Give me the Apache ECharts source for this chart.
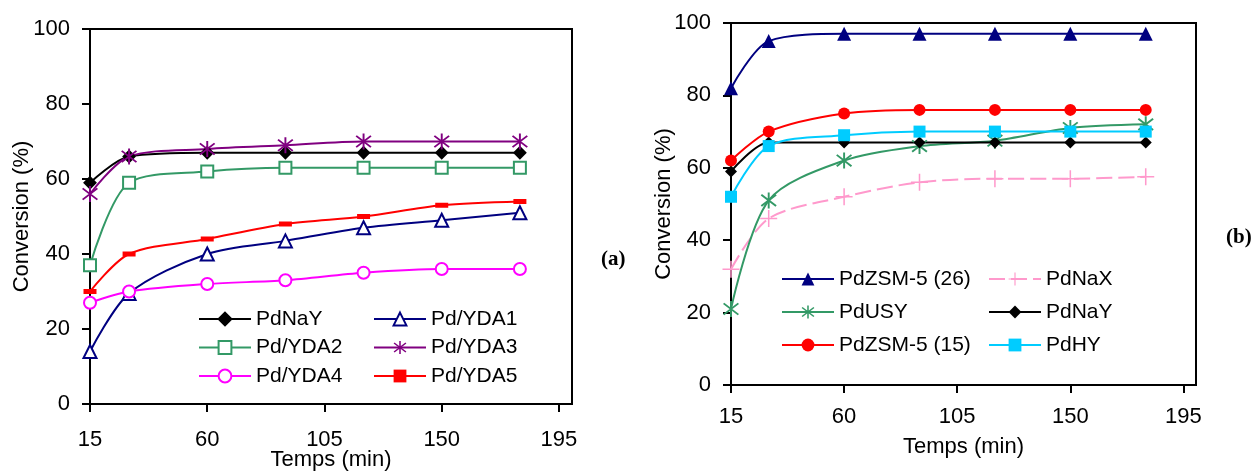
<!DOCTYPE html>
<html>
<head>
<meta charset="utf-8">
<script src="https://cdn.jsdelivr.net/npm/echarts@6/dist/echarts.min.js"></script>
<style>
  html, body { margin: 0; padding: 0; background: #fff; }
  #chart { width: 1258px; height: 472px; }
</style>
</head>
<body>
<div id="chart"></div>
<script>
// time points (min)
var times = [15, 30, 60, 90, 120, 150, 180];
var xTicks = [15, 60, 105, 150, 195];

// panel (a)
var pdNaY_a = [59, 66, 67, 67, 67, 67, 67];
var pdYDA1 = [14, 29.5, 40, 43.5, 47, 49, 51];
var pdYDA2 = [37, 59, 62, 63, 63, 63, 63];
var pdYDA3 = [56, 66, 68, 69, 70, 70, 70];
var pdYDA4 = [27, 30, 32, 33, 35, 36, 36];
var pdYDA5 = [30, 40, 44, 48, 50, 53, 54];

// panel (b)
var pdZSM26 = [82, 95, 97, 97, 97, 97, 97];
var pdNaX = [32, 46, 52, 56, 57, 57, 57.5];
var pdUSY = [21, 51, 62, 66, 67.5, 71, 72];
var pdNaY_b = [59, 67, 67, 67, 67, 67, 67];
var pdZSM15 = [62, 70, 75, 76, 76, 76, 76];
var pdHY = [52, 66, 69, 70, 70, 70, 70];

var FONT = "Liberation Sans, Arial, sans-serif";

function bar(cx, cy, len, w, deg) {
  var a = deg * Math.PI / 180;
  var dx = Math.cos(a) * len / 2, dy = Math.sin(a) * len / 2;
  var nx = -Math.sin(a) * w / 2, ny = Math.cos(a) * w / 2;
  var p = [
    [cx - dx + nx, cy - dy + ny], [cx + dx + nx, cy + dy + ny],
    [cx + dx - nx, cy + dy - ny], [cx - dx - nx, cy - dy - ny]
  ];
  return "M" + p.map(function (q) { return q[0].toFixed(2) + " " + q[1].toFixed(2); }).join(" L") + " Z ";
}
var asterisk = "path://" + bar(10, 10, 20, 2.2, 90) + bar(10, 10, 22, 2.2, 40) + bar(10, 10, 22, 2.2, 140);
var plus = "path://" + bar(10, 10, 20, 1.8, 90) + bar(10, 10, 20, 1.8, 0);

function pts(vals) {
  return times.map(function (t, i) { return [t, vals[i]]; });
}

function mk(name, vals, idx, color, symbol, size, extra) {
  var s = {
    name: name,
    type: "line",
    xAxisIndex: idx,
    yAxisIndex: idx,
    data: pts(vals),
    smooth: 0.3,
    symbol: symbol,
    symbolSize: size,
    showSymbol: true,
    showAllSymbol: true,
    animation: false,
    lineStyle: { color: color, width: 2 },
    itemStyle: { color: color, borderColor: color, borderWidth: 2 }
  };
  if (extra) {
    for (var k in extra) s[k] = extra[k];
  }
  return s;
}

function xAxis(idx, margin, gap) {
  return {
    type: "value",
    gridIndex: idx,
    min: 15,
    max: 200,
    name: "Temps (min)",
    nameLocation: "middle",
    nameGap: gap,
    nameMoveOverlap: false,
    nameTextStyle: { fontFamily: FONT, fontSize: 22, color: "#000" },
    axisLine: { show: true, onZero: false, lineStyle: { color: "#000", width: 2 } },
    axisTick: { show: true, length: 8, customValues: xTicks, lineStyle: { color: "#000", width: 2 } },
    axisLabel: { customValues: xTicks, margin: margin, fontFamily: FONT, fontSize: 22, color: "#000" },
    splitLine: { show: false }
  };
}

function yAxis(idx, gap) {
  return {
    type: "value",
    gridIndex: idx,
    min: 0,
    max: 100,
    interval: 20,
    name: "Conversion (%)",
    nameLocation: "middle",
    nameGap: gap,
    nameMoveOverlap: false,
    nameTextStyle: { fontFamily: FONT, fontSize: 22, color: "#000" },
    axisLine: { show: true, lineStyle: { color: "#000", width: 2 } },
    axisTick: { show: true, length: 8, lineStyle: { color: "#000", width: 2 } },
    axisLabel: { margin: 20, fontFamily: FONT, fontSize: 22, color: "#000" },
    splitLine: { show: false }
  };
}

function legend(names, left, top, gap) {
  return {
    data: names,
    orient: "vertical",
    left: left,
    top: top,
    itemWidth: 52,
    itemHeight: 16,
    itemGap: gap,
    padding: 0,
    selectedMode: false,
    textStyle: { fontFamily: FONT, fontSize: 21, color: "#000", lineHeight: 22 }
  };
}

var chart = echarts.init(document.getElementById("chart"));

var option = {
  backgroundColor: "#fff",
  grid: [
    { left: 90, top: 29, width: 482, height: 375, outerBoundsMode: "none", containLabel: false, show: true, borderColor: "#000", borderWidth: 2, backgroundColor: "transparent" },
    { left: 731, top: 23, width: 465, height: 362, outerBoundsMode: "none", containLabel: false, show: true, borderColor: "#000", borderWidth: 2, backgroundColor: "transparent" }
  ],
  xAxis: [xAxis(0, 25, 45), xAxis(1, 21, 51)],
  yAxis: [yAxis(0, 57), yAxis(1, 56)],
  legend: [
    legend(["PdNaY", "Pd/YDA2", "Pd/YDA4"], 198, 308, 6.5),
    legend(["Pd/YDA1", "Pd/YDA3", "Pd/YDA5"], 373, 308, 6.5),
    legend(["PdZSM-5 (26)", "PdUSY", "PdZSM-5 (15)"], 781, 268, 11),
    legend(["PdNaX", "PdNaY ", "PdHY"], 988, 268, 11)
  ],
  graphic: [
    { type: "text", left: 601, top: 249, style: { text: "(a)", font: "bold 21px 'Liberation Serif', 'Times New Roman', serif", fill: "#000" } },
    { type: "text", left: 1226, top: 227, style: { text: "(b)", font: "bold 21px 'Liberation Serif', 'Times New Roman', serif", fill: "#000" } }
  ],
  series: [
    mk("PdNaY", pdNaY_a, 0, "#000000", "diamond", 11),
    mk("Pd/YDA1", pdYDA1, 0, "#000080", "emptyTriangle", 13),
    mk("Pd/YDA2", pdYDA2, 0, "#339966", "emptyRect", 12),
    mk("Pd/YDA3", pdYDA3, 0, "#800080", asterisk, 16, { itemStyle: { color: "#800080", borderWidth: 0 } }),
    mk("Pd/YDA4", pdYDA4, 0, "#FF00FF", "emptyCircle", 12),
    mk("Pd/YDA5", pdYDA5, 0, "#FF0000", "rect", [13, 5], { itemStyle: { color: "#FF0000", borderWidth: 0 } }),

    mk("PdZSM-5 (26)", pdZSM26, 1, "#000080", "triangle", 14, { itemStyle: { color: "#000080", borderWidth: 0 } }),
    mk("PdNaX", pdNaX, 1, "#FF99CC", plus, 17, {
      lineStyle: { color: "#FF99CC", width: 2, type: [16, 6] },
      itemStyle: { color: "#FF99CC", borderWidth: 0 }
    }),
    mk("PdUSY", pdUSY, 1, "#339966", asterisk, 16, { itemStyle: { color: "#339966", borderWidth: 0 } }),
    mk("PdNaY ", pdNaY_b, 1, "#000000", "diamond", 12, { itemStyle: { color: "#000", borderWidth: 0 } }),
    mk("PdZSM-5 (15)", pdZSM15, 1, "#FF0000", "circle", 12, { itemStyle: { color: "#FF0000", borderWidth: 0 } }),
    mk("PdHY", pdHY, 1, "#00CCFF", "rect", 12, { itemStyle: { color: "#00CCFF", borderWidth: 0 } })
  ]
};

chart.setOption(option);
</script>
</body>
</html>
